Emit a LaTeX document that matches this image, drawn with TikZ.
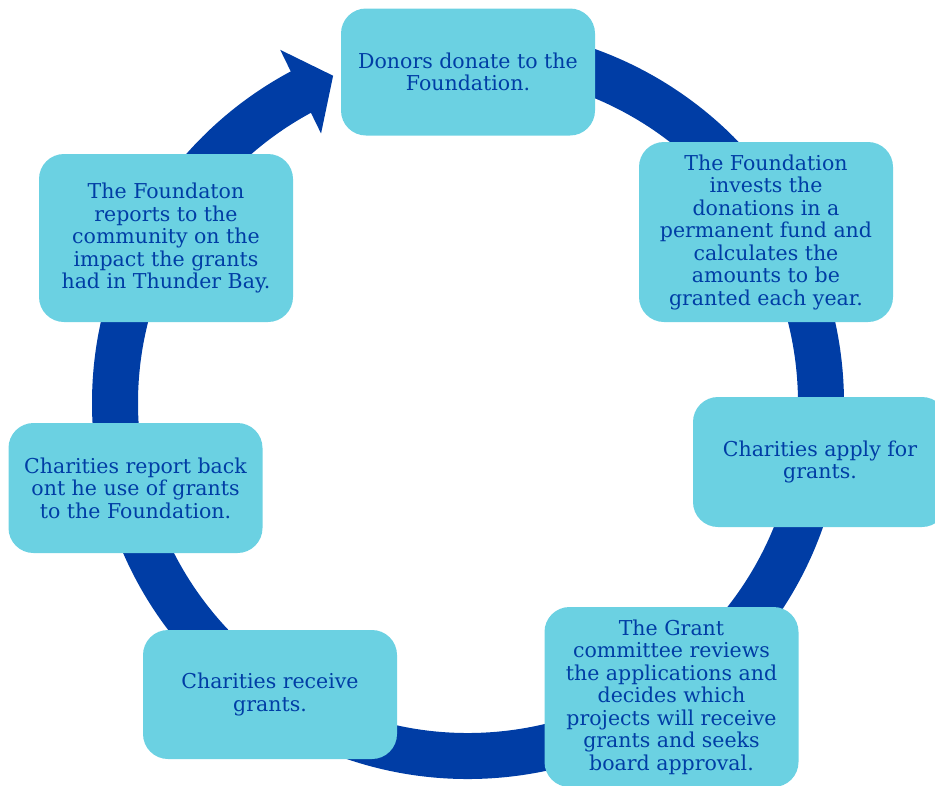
\documentclass[tikz,border=0pt]{standalone}
\usepackage{fontspec}
\setmainfont{DejaVu Serif}
\usepackage{tikz}
\usetikzlibrary{shapes,arrows}
\definecolor{ringblue}{HTML}{003DA5}
\definecolor{boxcyan}{HTML}{6BD1E2}
\tikzstyle{box} = [fill=boxcyan, rounded corners=25pt, minimum width=254pt, align=center, text=ringblue, font=\fontsize{20.5}{22.5}\selectfont]
\tikzstyle{ring} = [draw=ringblue, line width=46pt]

\begin{document}
\begin{tikzpicture}[x=1pt,y=1pt]
\useasboundingbox (0,0) rectangle (935,-785);

\coordinate (c) at (468,-403);
\draw[ring] ([shift={(95:353pt)}]c) arc[start angle=95, end angle=-242, radius=353pt];
\fill[ringblue] ([shift={(118:400pt)}]c) -- ([shift={(112.4:354pt)}]c) -- ([shift={(118.6:307pt)}]c) -- cycle;

\node[box, minimum height=127pt] (1) at (468,-72) {Donors donate to the\\Foundation.};
\node[box, minimum height=180pt] (2) at (766,-232) {The Foundation\\invests the\\donations in a\\permanent fund and\\calculates the\\amounts to be\\granted each year.};
\node[box, minimum height=130pt] (3) at (820,-462) {Charities apply for\\grants.};
\node[box, minimum height=180pt] (4) at (671.5,-697) {The Grant\\committee reviews\\the applications and\\decides which\\projects will receive\\grants and seeks\\board approval.};
\node[box, minimum height=129pt] (5) at (270,-694.5) {Charities receive\\grants.};
\node[box, minimum height=130pt] (6) at (135.5,-488) {Charities report back\\ont he use of grants\\to the Foundation.};
\node[box, minimum height=168pt] (7) at (166,-238) {The Foundaton\\reports to the\\community on the\\impact the grants\\had in Thunder Bay.};

\end{tikzpicture}
\end{document}
